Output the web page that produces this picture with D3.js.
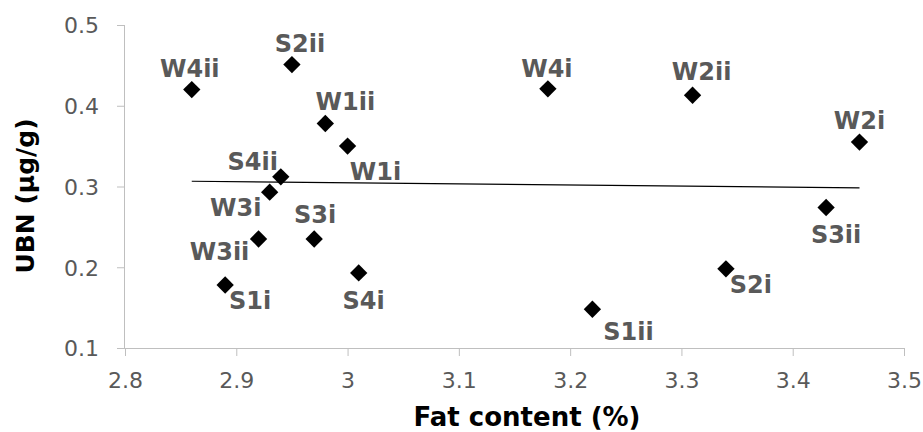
<!DOCTYPE html>
<html>
<head>
<meta charset="utf-8">
<script src="https://cdn.jsdelivr.net/npm/d3@7"></script>
<style>
  body { margin: 0; background: #fff; }
  .tick text { font-family: "DejaVu Sans", sans-serif; font-size: 22px; fill: #595959; }
  .axis path, .axis line { stroke: #bfbfbf; }
  .pt-label { font-family: "DejaVu Sans", sans-serif; font-weight: bold; font-size: 24px; fill: #595959; }
  .axis-title { font-family: "DejaVu Sans", sans-serif; font-weight: bold; font-size: 26px; fill: #000; }
</style>
</head>
<body>
<div id="chart"></div>
<script>
// sample names, fat content (%) and UBN (µg/g)
var names = ["W4ii", "S2ii", "W1ii", "W1i", "S4ii", "W3i", "W3ii", "S3i",
             "S1i", "S4i", "W4i", "W2ii", "W2i", "S3ii", "S2i", "S1ii"];
var fat = [2.86, 2.95, 2.98, 3.00, 2.94, 2.93, 2.92, 2.97,
           2.89, 3.01, 3.18, 3.31, 3.46, 3.43, 3.34, 3.22];
var ubn = [0.420, 0.451, 0.378, 0.350, 0.312, 0.293, 0.235, 0.235,
           0.178, 0.193, 0.421, 0.413, 0.355, 0.274, 0.198, 0.148];
var xTicks = [2.8, 2.9, 3.0, 3.1, 3.2, 3.3, 3.4, 3.5];
var yTicks = [0.1, 0.2, 0.3, 0.4, 0.5];

// label offsets from each marker (px), placement only
var labelOffset = [[-2, -13], [8, -13], [20, -14], [28, 34], [-28, -7], [-34, 24], [-39, 21], [1, -16],
                   [25, 24], [5, 36], [-1, -12], [9, -15], [0, -13], [10, 36], [25, 24], [36, 31]];

var w = 923, h = 432,
    margin = {top: 25, right: 19, bottom: 84, left: 125};
var width = w - margin.left - margin.right,
    height = h - margin.top - margin.bottom;

var svg = d3.select("#chart").append("svg")
    .attr("width", w)
    .attr("height", h);

var chart = svg.append("g")
    .attr("transform", "translate(" + margin.left + "," + margin.top + ")");

var x = d3.scaleLinear().domain([2.8, 3.5]).range([0, width]),
    y = d3.scaleLinear().domain([0.1, 0.5]).range([height, 0]);

var xAxis = d3.axisBottom(x).tickValues(xTicks).tickSize(8).tickPadding(11)
        .tickFormat(function (d) { return d3.format("")(+d.toFixed(1)); }),
    yAxis = d3.axisLeft(y).tickValues(yTicks).tickSize(8).tickPadding(18)
        .tickFormat(function (d) { return d.toFixed(1); });

chart.append("g")
    .attr("class", "axis x")
    .attr("transform", "translate(0," + height + ")")
    .call(xAxis)
    .call(function (g) { g.select(".domain").attr("d", "M0,0.5H" + width); })
    .selectAll(".tick text").attr("dy", "0.95em");

chart.append("g")
    .attr("class", "axis y")
    .call(yAxis)
    .call(function (g) { g.select(".domain").attr("d", "M-0.5,0V" + height); })
    .selectAll(".tick text").attr("dy", "0.36em");

// linear trendline through the points
var data = names.map(function (n, i) { return {name: n, x: fat[i], y: ubn[i], off: labelOffset[i]}; });
var mx = d3.mean(fat), my = d3.mean(ubn);
var slope = d3.sum(data, function (d) { return (d.x - mx) * (d.y - my); }) /
            d3.sum(data, function (d) { return (d.x - mx) * (d.x - mx); });
var xr = d3.extent(fat);
var trend = xr.map(function (v) { return [v, my + slope * (v - mx)]; });

chart.append("path")
    .datum(trend)
    .attr("fill", "none")
    .attr("stroke", "#000")
    .attr("stroke-width", 1.2)
    .attr("d", d3.line()
        .x(function (d) { return x(d[0]); })
        .y(function (d) { return y(d[1]); }));

chart.selectAll(".point")
    .data(data)
    .enter()
    .append("path")
    .classed("point", true)
    .attr("d", d3.symbol().type(d3.symbolSquare).size(150))
    .attr("fill", "#000")
    .attr("transform", function (d) {
        return "translate(" + x(d.x) + "," + y(d.y) + ") rotate(45)";
    });

chart.selectAll(".pt-label")
    .data(data)
    .enter()
    .append("text")
    .classed("pt-label", true)
    .attr("text-anchor", "middle")
    .attr("x", function (d) { return x(d.x) + d.off[0]; })
    .attr("y", function (d) { return y(d.y) + d.off[1]; })
    .text(function (d) { return d.name; });

// axis titles
svg.append("text")
    .attr("class", "axis-title")
    .attr("text-anchor", "middle")
    .attr("x", 527)
    .attr("y", 426)
    .text("Fat content (%)");

svg.append("text")
    .attr("class", "axis-title")
    .attr("text-anchor", "middle")
    .style("font-size", "25px")
    .attr("transform", "translate(34,196) rotate(-90)")
    .text("UBN (µg/g)");
</script>
</body>
</html>
